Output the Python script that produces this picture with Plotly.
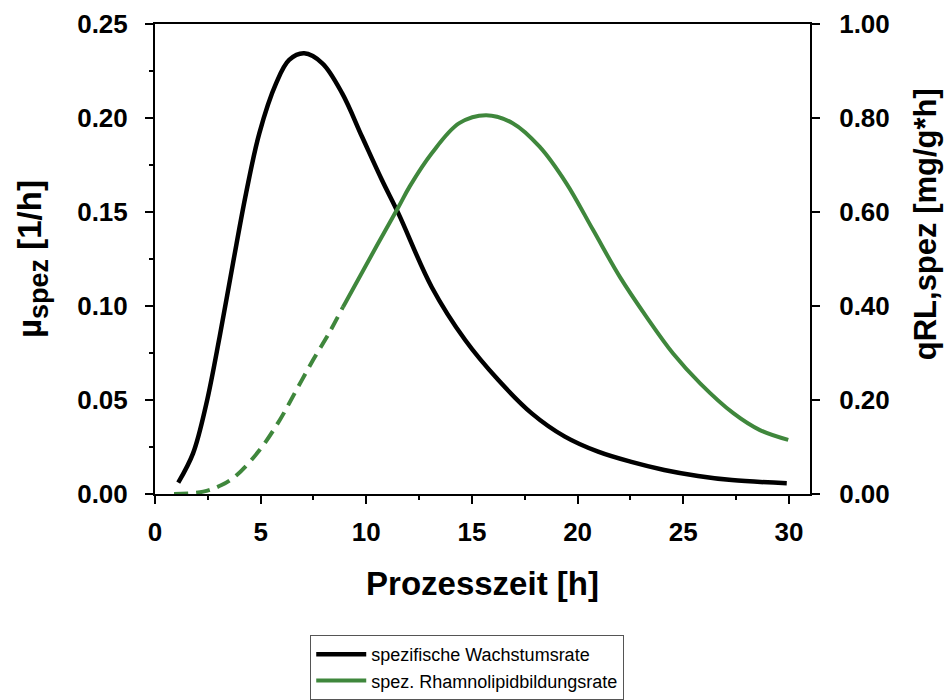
import plotly.graph_objects as go

# Black curve: specific growth rate (left axis)
mu_time = [1.1, 1.8, 2.43, 3.06, 3.69, 4.31, 4.94, 5.73, 6.35, 7.06, 7.92, 8.86, 9.8,
           10.74, 11.53, 13.1, 14.68, 16.25, 17.83, 19.4, 20.97, 22.5, 24.1, 25.7, 27.3, 29.9]
mu_vals = [0.006, 0.0216, 0.048, 0.0837, 0.1227, 0.160, 0.192, 0.2184, 0.2309, 0.2344, 0.2291,
           0.2131, 0.190, 0.167, 0.149, 0.110, 0.0819, 0.0606, 0.0429, 0.0305, 0.0225, 0.0172,
           0.0128, 0.0096, 0.0074, 0.0057]

# Green curve: specific rhamnolipid formation rate (right axis), dashed part
q_time_dash = [0.9, 2.28, 3.15, 3.86, 4.96, 5.9, 6.69, 7.48, 8.27, 8.9]
q_vals_dash = [0.0, 0.005, 0.019, 0.040, 0.094, 0.157, 0.221, 0.285, 0.345, 0.398]
# solid part
q_time = [8.9, 10.47, 11.53, 12.05, 13.1, 14.4, 15.67, 16.93, 18.2, 19.47, 20.73, 22.0,
          23.26, 24.52, 25.8, 27.37, 28.63, 29.97]
q_vals = [0.398, 0.526, 0.611, 0.654, 0.725, 0.789, 0.806, 0.789, 0.739, 0.661, 0.562, 0.462,
          0.377, 0.299, 0.2355, 0.172, 0.136, 0.115]

x_ticks = [0, 5, 10, 15, 20, 25, 30]
y_left_ticks = [0.0, 0.05, 0.10, 0.15, 0.20, 0.25]
y_right_ticks = [0.0, 0.2, 0.4, 0.6, 0.8, 1.0]

names = ["spezifische Wachstumsrate", "spez. Rhamnolipidbildungsrate"]
x_title = "Prozesszeit [h]"
y_left_title = 'µ<sub><span style="font-size:27px">spez</span></sub> [1/h]'
y_right_title = "qRL,spez [mg/g*h]"

BLACK = "#000000"
GREEN = "#3f873c"
FONT = "Liberation Sans, Arial, sans-serif"

fig = go.Figure()
fig.add_trace(go.Scatter(x=mu_time, y=mu_vals, mode="lines", name=names[0],
                         line=dict(color=BLACK, width=4.5, shape="spline", smoothing=1.0),
                         yaxis="y"))
fig.add_trace(go.Scatter(x=q_time_dash, y=q_vals_dash, mode="lines", showlegend=False,
                         line=dict(color=GREEN, width=4, shape="spline", smoothing=1.0,
                                   dash="14px,8px"),
                         yaxis="y2"))
fig.add_trace(go.Scatter(x=q_time, y=q_vals, mode="lines", name=names[1],
                         line=dict(color=GREEN, width=4, shape="spline", smoothing=1.0),
                         yaxis="y2"))

tickfont = dict(family=FONT, size=26, color="black", weight="bold")

fig.update_layout(
    width=947, height=700,
    margin=dict(l=155, r=137, t=24, b=206, autoexpand=False),
    paper_bgcolor="white", plot_bgcolor="white",
    font=dict(family=FONT, color="black"),
    xaxis=dict(range=[0, 31], tickvals=x_ticks, ticktext=[str(v) for v in x_ticks],
               ticks="outside", ticklen=8, tickwidth=2, tickcolor="black",
               minor=dict(dtick=2.5, ticks="outside", ticklen=4, tickwidth=2, tickcolor="black",
                          showgrid=False),
               showline=True, linecolor="black", linewidth=2, mirror=True,
               showgrid=False, zeroline=False, tickfont=tickfont, ticklabelstandoff=6,
               automargin=False,
               title=dict(text=x_title, standoff=26,
                          font=dict(family=FONT, size=33, color="black", weight="bold"))),
    yaxis=dict(range=[0, 0.25], tickvals=y_left_ticks,
               ticktext=["%.2f" % v for v in y_left_ticks],
               ticks="outside", ticklen=8, tickwidth=2, tickcolor="black",
               minor=dict(dtick=0.025, ticks="outside", ticklen=4, tickwidth=2, tickcolor="black",
                          showgrid=False),
               showline=True, linecolor="black", linewidth=2, automargin=False,
               showgrid=False, zeroline=False, tickfont=tickfont, ticklabelstandoff=12),
    yaxis2=dict(range=[0, 1.0], tickvals=y_right_ticks,
                ticktext=["%.2f" % v for v in y_right_ticks],
                overlaying="y", side="right", automargin=False,
                ticks="outside", ticklen=8, tickwidth=2, tickcolor="black",
                showline=True, linecolor="black", linewidth=2,
                showgrid=False, zeroline=False, tickfont=tickfont, ticklabelstandoff=14),
    annotations=[
        dict(text=y_left_title, xref="paper", yref="paper", x=-0.1878, y=0.5,
             xanchor="center", yanchor="middle", textangle=-90, showarrow=False,
             font=dict(family=FONT, size=33, color="black", weight="bold")),
        dict(text=y_right_title, xref="paper", yref="paper", x=1.1756, y=0.574,
             xanchor="center", yanchor="middle", textangle=-90, showarrow=False,
             font=dict(family=FONT, size=31, color="black", weight="bold")),
    ],
    legend=dict(x=0.237, y=-0.30, xanchor="left", yanchor="top",
                bordercolor="#555555", borderwidth=1, bgcolor="white",
                font=dict(family=FONT, size=18, color="black"),
                itemwidth=50, tracegroupgap=0),
    showlegend=True,
)

fig.write_html("out.html")
